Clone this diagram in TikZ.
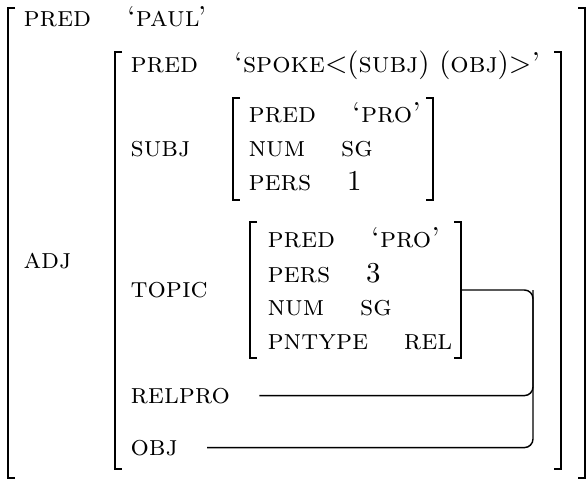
\documentclass[tikz,border=0pt]{standalone}
\usepackage{tikz}
\usetikzlibrary{positioning}

\begin{document}
\begin{tikzpicture}[x=0.347pt,y=-0.347pt]
                      \tikzstyle{attr}=[inner sep=0pt,anchor=base west]
                      \tikzstyle{val}=[inner sep=0pt]
                      \tikzstyle{brk}=[line width=0.75pt]
                      \tikzstyle{link}=[line width=0.5pt,rounded corners=3pt]
                      \useasboundingbox (0,0) rectangle (586,479);
                      \draw[brk] (15,8) -- (8,8) -- (8,478) -- (15,478);
                      \draw[brk] (578,8) -- (585,8) -- (585,478) -- (578,478);
                      \node[attr] (p) at (23,27) {\textsc{pred}};
                      \node[val, base right=12pt of p] (paul) {\textsc{`paul'}};
                      \node[attr] (adj) at (23,268) {\textsc{adj}};
                      \draw[brk] (122,52) -- (115,52) -- (115,469) -- (122,469);
                      \draw[brk] (554,52) -- (561,52) -- (561,469) -- (554,469);
                      \node[attr] (ap) at (130,73) {\textsc{pred}};
                      \node[val, base right=12pt of ap] (spoke) {\textsc{`spoke}$<$(\textsc{subj}) (\textsc{obj})$>$\textsc{'}};
                      \node[attr] (as) at (130,157) {\textsc{subj}};
                      \node[attr] (at) at (130,297) {\textsc{topic}};
                      \node[attr] (r) at (130,403) {\textsc{relpro}};
                      \node[attr] (o) at (130,455) {\textsc{obj}};
                      \draw[brk] (240,98) -- (233,98) -- (233,200) -- (240,200);
                      \draw[brk] (426,98) -- (433,98) -- (433,200) -- (426,200);
                      \node[attr] (sp) at (248,123) {\textsc{pred}};
                      \node[val, base right=12pt of sp] (spro) {\textsc{`pro'}};
                      \node[attr] (sn) at (248,157) {\textsc{num}};
                      \node[val, base right=12pt of sn] (ssg) {\textsc{sg}};
                      \node[attr] (se) at (248,190) {\textsc{pers}};
                      \node[val, base right=12pt of se] (s1) {1};
                      \draw[brk] (257,222) -- (250,222) -- (250,358) -- (257,358);
                      \draw[brk] (454,222) -- (461,222) -- (461,358) -- (454,358);
                      \node[attr] (tp) at (267,247) {\textsc{pred}};
                      \node[val, base right=12pt of tp] (tpro) {\textsc{`pro'}};
                      \node[attr] (te) at (267,282) {\textsc{pers}};
                      \node[val, base right=12pt of te] (t3) {3};
                      \node[attr] (tn) at (267,315) {\textsc{num}};
                      \node[val, base right=12pt of tn] (tsg) {\textsc{sg}};
                      \node[attr] (tt) at (267,349) {\textsc{pntype}};
                      \node[val, base right=12pt of tt] (trel) {\textsc{rel}};
                      \coordinate (tm) at (462,290);
                      \coordinate (k) at (533,290);
                      \draw[link] (tm) -- (k) |- ([xshift=10pt]o.east);
                      \draw[link] ([xshift=10pt]r.east) -| (k);
\end{tikzpicture}
\end{document}
